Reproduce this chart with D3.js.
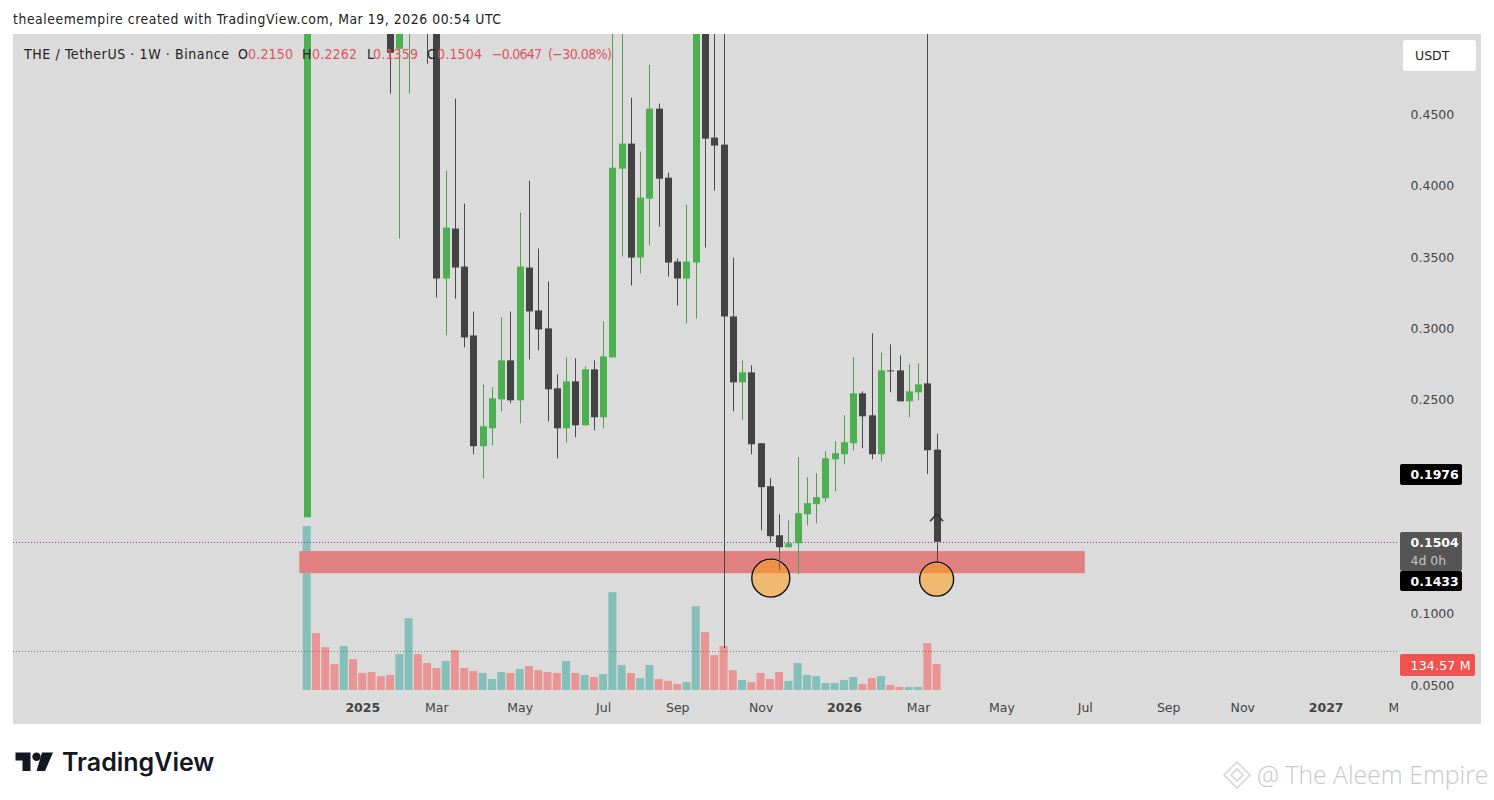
<!DOCTYPE html>
<html>
<head>
<meta charset="utf-8">
<script src="https://cdnjs.cloudflare.com/ajax/libs/d3/7.8.5/d3.min.js"></script>
<style>
  html, body { margin: 0; padding: 0; background: #fff; overflow: hidden; }
  text { font-family: "DejaVu Sans", sans-serif; }
</style>
</head>
<body>
<div id="chart-container"></div>
<script>
// weekly candles, first 14 sit above the visible pane so those are rough guesses
const opens = [0.1676, 0.95, 0.84, 0.74, 0.70, 0.76, 0.68, 0.64, 0.62, 0.60, 0.4961, 0.56, 0.66, 0.60, 0.54, 0.3350, 0.3700, 0.3434, 0.2951, 0.2174, 0.2300, 0.2503, 0.2776, 0.2496, 0.3427, 0.3126, 0.3000, 0.2580, 0.2300, 0.2629, 0.2321, 0.2713, 0.2377, 0.2797, 0.4120, 0.4296, 0.3497, 0.3910, 0.4541, 0.4057, 0.3469, 0.3350, 0.3462, 0.56, 0.4338, 0.4289, 0.3084, 0.2622, 0.2692, 0.2195, 0.1894, 0.1550, 0.1466, 0.1494, 0.1697, 0.1768, 0.1810, 0.2083, 0.2118, 0.2195, 0.2545, 0.2391, 0.2118, 0.2706, 0.2706, 0.2489, 0.2552, 0.2615, 0.2150];
const highs = [1.0, 1.02, 0.88, 0.78, 0.82, 0.80, 0.72, 0.68, 0.66, 0.64, 0.62, 0.70, 0.70, 0.63, 0.57, 0.4106, 0.4611, 0.3875, 0.3119, 0.2608, 0.2587, 0.3077, 0.3119, 0.3812, 0.4036, 0.3560, 0.3329, 0.2678, 0.2797, 0.2790, 0.2734, 0.2776, 0.3049, 0.56, 0.56, 0.4618, 0.4240, 0.4849, 0.4576, 0.4092, 0.3490, 0.3868, 0.60, 0.60, 0.56, 0.56, 0.3497, 0.2776, 0.2741, 0.2195, 0.1950, 0.1697, 0.1655, 0.2097, 0.1957, 0.1985, 0.2139, 0.2209, 0.2391, 0.2797, 0.2559, 0.2965, 0.2832, 0.2888, 0.2811, 0.2748, 0.2755, 0.56, 0.2262];
const lows = [0.1676, 0.80, 0.70, 0.66, 0.66, 0.64, 0.60, 0.58, 0.56, 0.4646, 0.3630, 0.4646, 0.54, 0.4856, 0.3217, 0.2951, 0.3210, 0.2867, 0.2118, 0.1950, 0.2181, 0.2419, 0.2475, 0.2335, 0.2783, 0.2846, 0.2349, 0.2090, 0.2202, 0.2237, 0.2321, 0.2286, 0.2300, 0.2797, 0.3504, 0.3301, 0.3385, 0.3581, 0.3714, 0.3364, 0.3161, 0.3035, 0.3070, 0.3567, 0.3966, 0.0759, 0.2419, 0.2356, 0.2118, 0.1585, 0.1501, 0.1305, 0.1466, 0.1277, 0.1620, 0.1634, 0.1782, 0.1858, 0.2048, 0.2146, 0.2160, 0.2083, 0.2069, 0.2552, 0.2489, 0.2377, 0.2496, 0.1979, 0.1359];
const closes = [0.95, 0.84, 0.74, 0.70, 0.76, 0.68, 0.64, 0.62, 0.60, 0.4933, 0.58, 0.66, 0.60, 0.54, 0.3350, 0.3707, 0.3427, 0.2937, 0.2174, 0.2314, 0.2510, 0.2776, 0.2496, 0.3434, 0.3119, 0.2993, 0.2573, 0.2300, 0.2629, 0.2321, 0.2713, 0.2377, 0.2804, 0.4127, 0.4296, 0.3497, 0.3917, 0.4541, 0.4050, 0.3462, 0.3350, 0.3469, 0.56, 0.4331, 0.4282, 0.3084, 0.2622, 0.2692, 0.2188, 0.1887, 0.1543, 0.1466, 0.1494, 0.1704, 0.1775, 0.1817, 0.2090, 0.2125, 0.2202, 0.2545, 0.2384, 0.2118, 0.2706, 0.2699, 0.2489, 0.2559, 0.2608, 0.2146, 0.1504];
// volume in millions
const volumes = [850, 295, 222, 134, 228, 160, 88, 93, 72, 78, 186, 372, 186, 140, 114, 150, 207, 114, 98, 88, 57, 93, 88, 109, 124, 103, 93, 88, 150, 88, 78, 67, 83, 507, 129, 88, 62, 129, 57, 47, 31, 41, 434, 300, 181, 228, 103, 52, 41, 88, 57, 93, 47, 140, 78, 72, 36, 36, 52, 67, 31, 62, 72, 26, 16, 16, 16, 243, 134.57];

const yTicks = [0.05, 0.10, 0.15, 0.25, 0.30, 0.35, 0.40, 0.45];
const xTickIdx = [6, 14, 23, 32, 40, 49, 58, 66, 75, 84, 93, 101, 110, 118];
const xTickLabels = ['2025', 'Mar', 'May', 'Jul', 'Sep', 'Nov', '2026', 'Mar', 'May', 'Jul', 'Sep', 'Nov', '2027', 'Mar'];
const yearLabels = ['2025', '2026', '2027'];

const lastPrice = 0.1504;
const zoneTop = 0.1439;
const zoneBottom = 0.1284;
const zoneFrom = -0.8;
const zoneTo = 84;
const volumeAvg = 200;
const circleIdx = [50.1, 68];
const circlePrice = [0.1249, 0.1242];
const circleSize = [19, 17];

const legendTexts = ['THE / TetherUS · 1W · Binance', 'O', '0.2150', 'H', '0.2262', 'L', '0.1359', 'C', '0.1504', '−0.0647', '(−30.08%)'];

window.onload = () => {
  const width = 1494;
  const height = 800;
  const pane = { left: 13, top: 34, right: 1481, bottom: 724 };
  const plotRight = 1398;
  const green = '#4caf50';
  const dark = '#434343';

  const x = d3.scaleLinear().domain([0, 68]).range([306.7, 936.6]);
  const y = d3.scaleLinear().domain([0.05, 0.45]).range([685, 114.5]);
  const yVol = d3.scaleLinear().domain([0, 850]).range([690, 526]);

  const svg = d3.select('#chart-container').append('svg')
    .attr('width', width)
    .attr('height', height)
    .style('display', 'block');

  svg.append('text')
    .attr('x', 13).attr('y', 24)
    .style('font-family', '"DejaVu Sans Condensed", "DejaVu Sans"')
    .style('font-stretch', 'condensed')
    .style('font-size', '13.8px')
    .attr('textLength', 488)
    .attr('fill', '#222')
    .text('thealeemempire created with TradingView.com, Mar 19, 2026 00:54 UTC');

  svg.append('rect')
    .attr('x', pane.left).attr('y', pane.top)
    .attr('width', pane.right - pane.left)
    .attr('height', pane.bottom - pane.top)
    .attr('fill', '#dbdbdb');

  svg.append('clipPath').attr('id', 'plot')
    .append('rect')
    .attr('x', pane.left).attr('y', pane.top)
    .attr('width', plotRight - pane.left)
    .attr('height', pane.bottom - pane.top);

  const plot = svg.append('g').attr('clip-path', 'url(#plot)');

  // volume
  plot.selectAll('rect.vol')
    .data(volumes)
    .enter()
    .append('rect')
    .attr('class', 'vol')
    .attr('x', (_, i) => x(i) - 4)
    .attr('width', 8)
    .attr('y', d => yVol(d))
    .attr('height', d => yVol(0) - yVol(d))
    .attr('fill', (_, i) => closes[i] >= opens[i] ? '#84bfb9' : '#e89594');

  // volume average and last price lines
  plot.append('line')
    .attr('x1', pane.left).attr('x2', plotRight)
    .attr('y1', Math.round(yVol(volumeAvg)) + 0.5).attr('y2', Math.round(yVol(volumeAvg)) + 0.5)
    .attr('stroke', '#777').attr('stroke-dasharray', '1,2');

  // demand zone
  plot.append('rect')
    .attr('x', x(zoneFrom)).attr('width', x(zoneTo) - x(zoneFrom))
    .attr('y', y(zoneTop)).attr('height', y(zoneBottom) - y(zoneTop))
    .attr('fill', '#e08080');

  plot.append('line')
    .attr('x1', pane.left).attr('x2', plotRight)
    .attr('y1', Math.round(y(lastPrice)) + 0.5).attr('y2', Math.round(y(lastPrice)) + 0.5)
    .attr('stroke', '#7a3c96').attr('stroke-dasharray', '1,2');

  // candles
  const candle = plot.selectAll('g.candle')
    .data(opens)
    .enter()
    .append('g')
    .attr('class', 'candle');

  candle.append('line')
    .attr('x1', (_, i) => Math.round(x(i)) + 0.5)
    .attr('x2', (_, i) => Math.round(x(i)) + 0.5)
    .attr('y1', (_, i) => y(highs[i]))
    .attr('y2', (_, i) => y(lows[i]))
    .attr('stroke', (_, i) => closes[i] >= opens[i] ? '#4f9f53' : '#4a4a4a')
    .attr('stroke-width', 1);

  candle.append('rect')
    .attr('x', (_, i) => Math.round(x(i)) - 3)
    .attr('width', 7)
    .attr('y', (d, i) => y(Math.max(d, closes[i])))
    .attr('height', (d, i) => Math.max(1, Math.abs(y(d) - y(closes[i]))))
    .attr('fill', (_, i) => closes[i] >= opens[i] ? green : dark);

  // little arrow on the last candle
  plot.append('path')
    .attr('d', d3.line()([[x(68) - 6.5, y(0.1648)], [x(68), y(0.1697)], [x(68) + 6.5, y(0.1648)]]))
    .attr('fill', 'none')
    .attr('stroke', '#333')
    .attr('stroke-width', 1.6);

  // circles, the part over the zone is a darker orange
  circleIdx.forEach((c, i) => {
    const r = circleSize[i];
    plot.append('clipPath').attr('id', 'cz' + i)
      .append('rect')
      .attr('x', x(c) - r - 2).attr('width', 2 * r + 4)
      .attr('y', y(zoneTop)).attr('height', y(zoneBottom) - y(zoneTop));
    plot.append('circle')
      .attr('cx', x(c)).attr('cy', y(circlePrice[i])).attr('r', r)
      .attr('fill', '#f0b970')
      .attr('stroke', '#111').attr('stroke-width', 1.4);
    plot.append('circle')
      .attr('cx', x(c)).attr('cy', y(circlePrice[i])).attr('r', r - 1)
      .attr('fill', '#ee9048')
      .attr('clip-path', `url(#cz${i})`);
  });
  plot.append('line')
    .attr('x1', Math.round(x(51)) + 0.5).attr('x2', Math.round(x(51)) + 0.5)
    .attr('y1', y(zoneTop)).attr('y2', y(lows[51]))
    .attr('stroke', '#6a5a50');

  // axes
  const xAxis = d3.axisBottom(x)
    .tickValues(xTickIdx)
    .tickSize(0)
    .tickPadding(0)
    .tickFormat((_, i) => xTickLabels[i]);

  const gx = svg.append('g')
    .attr('clip-path', 'url(#plot)')
    .append('g')
    .attr('transform', 'translate(0,703)')
    .call(xAxis);
  gx.select('.domain').remove();
  gx.selectAll('text')
    .style('font-family', '"DejaVu Sans"')
    .style('font-size', '12.5px')
    .attr('fill', '#444')
    .style('font-weight', function() { return yearLabels.includes(this.textContent) ? 700 : 400; })
    .attr('dy', '0.71em')
    .attr('y', 0);

  const yAxis = d3.axisRight(y)
    .tickValues(yTicks)
    .tickSize(0)
    .tickPadding(0)
    .tickFormat(d3.format('.4f'));

  const gy = svg.append('g')
    .attr('transform', 'translate(1410.5,0)')
    .call(yAxis);
  gy.select('.domain').remove();
  gy.selectAll('text')
    .style('font-size', '12.5px')
    .attr('fill', '#444');
  // 0.15 tick is hidden behind the countdown label
  gy.selectAll('.tick').filter(d => d === 0.15).remove();

  // price labels on the right
  const tags = [
    { top: 464, h: 21, w: 62, fill: '#000', text: '0.1976', color: '#fff', bold: true },
    { top: 532, h: 39, w: 62, fill: '#555', text: '0.1504', color: '#fff', bold: true, sub: '4d 0h' },
    { top: 571, h: 20, w: 62, fill: '#000', text: '0.1433', color: '#fff', bold: true },
    { top: 654, h: 22, w: 75, fill: '#ef5350', text: '134.57 M', color: '#fff', bold: false }
  ];
  tags.forEach(t => {
    svg.append('rect')
      .attr('x', 1400).attr('y', t.top)
      .attr('width', t.w).attr('height', t.h)
      .attr('rx', 2)
      .attr('fill', t.fill);
    svg.append('text')
      .attr('x', 1410.5)
      .attr('y', t.sub ? t.top + 15 : t.top + t.h / 2 + 4.5)
      .style('font-size', '12.5px')
      .style('font-weight', t.bold ? 600 : 400)
      .attr('textLength', t.w === 75 ? 60 : null)
      .attr('fill', t.color)
      .text(t.text);
    if (t.sub) {
      svg.append('text')
        .attr('x', 1410.5).attr('y', t.top + 33)
        .style('font-size', '12.5px')
        .attr('fill', '#c4c4c4')
        .text(t.sub);
    }
  });

  // currency button
  svg.append('rect')
    .attr('x', 1403).attr('y', 40)
    .attr('width', 73).attr('height', 31)
    .attr('rx', 3)
    .attr('fill', '#fff');
  svg.append('text')
    .attr('x', 1415).attr('y', 60)
    .style('font-size', '12.5px')
    .attr('fill', '#222')
    .text('USDT');

  // legend goes over the candles, each piece at its own spot
  const legendX = [24, 238, 248, 302, 312, 367, 373, 427, 437, 492, 548];
  const legendLen = [205, null, 45, null, 45, null, 45, null, 45, 50, 64];
  svg.selectAll('text.legend')
    .data(legendTexts)
    .enter()
    .append('text')
    .attr('class', 'legend')
    .attr('x', (_, i) => legendX[i])
    .attr('y', 59)
    .attr('textLength', (_, i) => legendLen[i])
    .style('font-family', '"DejaVu Sans Condensed", "DejaVu Sans"')
    .style('font-stretch', 'condensed')
    .style('font-size', '14px')
    .attr('fill', (_, i) => (i < 2 || i === 3 || i === 5 || i === 7) ? '#222' : '#dc5560')
    .text(d => d);

  // TradingView logo
  const logo = svg.append('g').attr('fill', '#131722');
  logo.append('path').attr('d', 'M15.5 752.5H30.5V771H22.5V760.5H15.5Z');
  logo.append('circle').attr('cx', 36.5).attr('cy', 756.8).attr('r', 4.2);
  logo.append('path').attr('d', 'M42 752.5H53L45 771H36.5Z');
  svg.append('text')
    .attr('x', 62).attr('y', 771)
    .style('font-family', 'Inter')
    .style('font-weight', 600)
    .style('font-size', '25px')
    .attr('fill', '#131722')
    .text('TradingView');

  // watermark
  const mark = svg.append('g')
    .attr('fill', 'none')
    .attr('stroke', '#d8d8d8')
    .attr('stroke-width', 1.6);
  mark.append('path').attr('d', 'M1237 762L1250 775L1237 788L1224 775Z');
  mark.append('path').attr('d', 'M1237 769L1243 775L1237 781L1231 775Z');
  svg.append('text')
    .attr('x', 1257).attr('y', 784)
    .style('font-family', '"Open Sans"')
    .style('font-size', '24.8px')
    .style('font-weight', 300)
    .attr('fill', '#c9c9c9')
    .text('@ The Aleem Empire');
};
</script>
</body>
</html>
